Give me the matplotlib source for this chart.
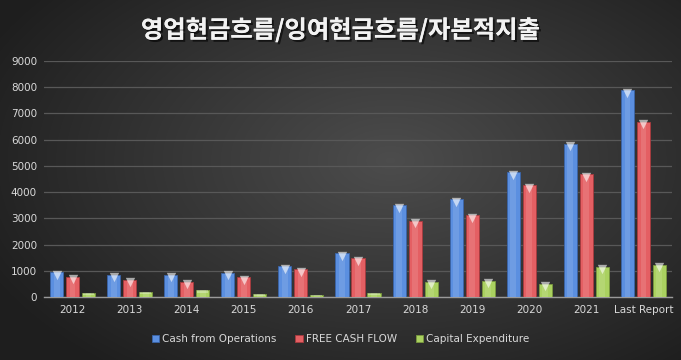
import numpy as np
import matplotlib
matplotlib.use("Agg")
import matplotlib.pyplot as plt
import matplotlib.patheffects as pe

# data
years = ['2012', '2013', '2014', '2015', '2016', '2017', '2018', '2019', '2020', '2021', 'Last Report']
cfo = [935, 850, 850, 910, 1170, 1670, 3500, 3730, 4760, 5830, 7880]
fcf = [760, 660, 580, 755, 1060, 1480, 2895, 3120, 4265, 4685, 6675]
capex = [150, 200, 280, 100, 65, 170, 580, 620, 495, 1140, 1230]
series_names = ['Cash from Operations', 'FREE CASH FLOW', 'Capital Expenditure']

colors = ['#5b8fe0', '#e45f63', '#aad160']
edges = ['#3a64a8', '#a83a3e', '#7a9a3e']

label_font = ['Liberation Sans Narrow', 'DejaVu Sans']

fig = plt.figure(figsize=(6.81, 3.6), dpi=100)

# radial dark background
bg = fig.add_axes([0, 0, 1, 1])
yy, xx = np.mgrid[0:360, 0:681]
r = np.sqrt(((xx - 390) / 420.0) ** 2 + ((yy - 160) / 250.0) ** 2)
shade = np.clip(0.30 - 0.17 * r, 0.12, 0.30)
bg.imshow(np.dstack([shade, shade, shade]), aspect='auto', extent=[0, 1, 0, 1])
bg.axis('off')

ax = fig.add_axes([44 / 681, 1 - 297 / 360, (672 - 44) / 681, (297 - 61) / 360])
ax.patch.set_alpha(0)

x = np.arange(len(years))
w = 0.23
step = 0.28
for i, vals in enumerate([cfo, fcf, capex]):
    pos = x + (i - 1) * step
    bars = ax.bar(pos, vals, width=w, color=colors[i], edgecolor=edges[i], linewidth=0.6,
                  label=series_names[i], zorder=3)
    # lighter centre stripe to mimic the bevelled look
    ax.bar(pos, vals, width=w * 0.45, color='white', alpha=0.12, linewidth=0, zorder=4)
    big = np.array(vals) > 300
    ax.scatter(pos[big], np.array(vals)[big] - 90, marker='v', s=45, color='white', alpha=0.6,
               linewidths=0, zorder=5)
    # small bars only get a light cap
    ax.bar(pos[~big], np.array(vals)[~big] * 0.45, bottom=np.array(vals)[~big] * 0.55,
           width=w * 0.85, color='white', alpha=0.3, linewidth=0, zorder=5)

ax.set_xlim(-0.5, len(years) - 0.5)
ax.set_ylim(0, 9000)
ax.set_yticks(np.arange(0, 9001, 1000))
ax.set_xticks(x)
ax.set_xticklabels(years)
ax.yaxis.grid(True, color='#585858', linewidth=0.9, zorder=0)
ax.set_axisbelow(True)
for s in ['top', 'right', 'left']:
    ax.spines[s].set_visible(False)
ax.spines['bottom'].set_color('#9a9a9a')
ax.spines['bottom'].set_linewidth(1.0)
ax.tick_params(axis='both', length=0, colors='#d9d9d9', labelsize=7.5)
ax.tick_params(axis='x', pad=6)
ax.tick_params(axis='y', pad=5)
for lab in ax.get_xticklabels() + ax.get_yticklabels():
    lab.set_family(label_font)

leg = fig.legend(loc='center', bbox_to_anchor=(0.5, 1 - 339 / 360), ncol=3, frameon=False,
                 handlelength=0.7, handleheight=0.7, handletextpad=0.3,
                 columnspacing=1.8, prop={'family': label_font, 'size': 7.5})
for t in leg.get_texts():
    t.set_color('#d9d9d9')

fig.text(0.5, 1 - 30 / 360, '영업현금흐름/잉여현금흐름/자본적지출', ha='center', va='center',
         color='#f2f2f2', fontsize=17.5, fontweight='bold',
         family=['Noto Sans CJK KR', 'DejaVu Sans'],
         path_effects=[pe.withSimplePatchShadow(offset=(1.5, -1.5), shadow_rgbFace='black', alpha=0.6),
                       pe.Normal()])

fig.savefig('out.png', dpi=100)
